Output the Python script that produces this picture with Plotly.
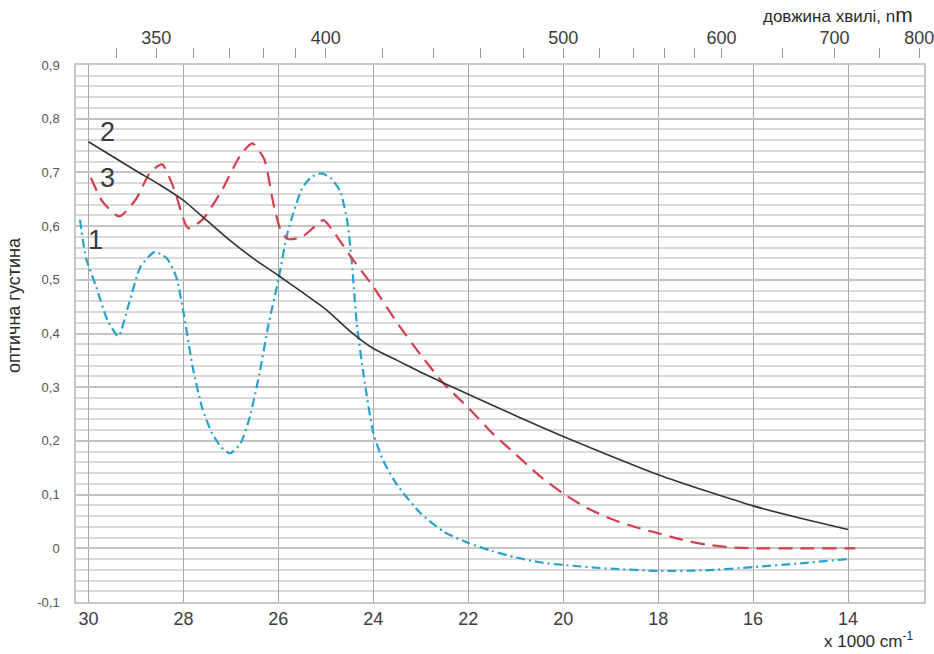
import plotly.graph_objects as go

# ---- data (x in 1000 cm^-1, y = optical density) ----
w1 = [30.18, 30.05, 29.85, 29.6, 29.37, 29.15, 28.9, 28.6, 28.35, 28.15, 28.0, 27.8, 27.6, 27.4, 27.2,
      27.02, 26.8, 26.6, 26.4, 26.2, 26.0, 25.8, 25.5, 25.3, 25.1, 24.9, 24.7, 24.55, 24.45, 24.35,
      24.2, 24.0, 23.8, 23.5, 23.0, 22.5, 22.0, 21.5, 21.0, 20.5, 20.0, 19.0, 18.0, 17.0, 16.0, 15.0, 14.0]
v1 = [0.612, 0.540, 0.490, 0.425, 0.395, 0.455, 0.525, 0.552, 0.540, 0.505, 0.440, 0.335, 0.260, 0.215, 0.188,
      0.177, 0.195, 0.245, 0.325, 0.420, 0.500, 0.590, 0.670, 0.692, 0.698, 0.690, 0.665, 0.610, 0.530, 0.420,
      0.320, 0.215, 0.165, 0.118, 0.065, 0.030, 0.010, -0.005, -0.017, -0.026, -0.031, -0.038, -0.042, -0.041,
      -0.035, -0.028, -0.020]

w2 = [30.0, 29.5, 29.0, 28.5, 28.0, 27.5, 27.0, 26.5, 26.0, 25.5, 25.0, 24.5, 24.0, 23.5, 23.0, 22.5,
      22.0, 21.0, 20.0, 19.0, 18.0, 17.0, 16.0, 15.0, 14.0]
v2 = [0.757, 0.730, 0.703, 0.677, 0.648, 0.610, 0.572, 0.538, 0.508, 0.477, 0.445, 0.405, 0.372, 0.350,
      0.328, 0.307, 0.287, 0.247, 0.208, 0.172, 0.137, 0.107, 0.079, 0.056, 0.035]

w3 = [29.95, 29.7, 29.35, 29.0, 28.7, 28.45, 28.2, 27.9, 27.6, 27.2, 26.8, 26.55, 26.3, 26.1, 25.95, 25.8,
      25.5, 25.25, 25.05, 24.8, 24.5, 24.0, 23.5, 23.0, 22.5, 22.0, 21.5, 21.0, 20.5, 20.0, 19.5, 19.0,
      18.5, 18.0, 17.5, 17.0, 16.5, 16.0, 15.0, 14.0, 13.85]
v3 = [0.690, 0.645, 0.618, 0.650, 0.700, 0.715, 0.670, 0.596, 0.612, 0.665, 0.732, 0.754, 0.725, 0.640,
      0.592, 0.576, 0.580, 0.598, 0.611, 0.585, 0.546, 0.487, 0.420, 0.360, 0.305, 0.262, 0.215, 0.175,
      0.135, 0.102, 0.075, 0.055, 0.040, 0.028, 0.016, 0.007, 0.002, 0.0, 0.0, 0.0, 0.0]

x_ticks = [30, 28, 26, 24, 22, 20, 18, 16, 14]
y_tick_vals = [-0.1, 0, 0.1, 0.2, 0.3, 0.4, 0.5, 0.6, 0.7, 0.8, 0.9]
y_tick_labels = ["-0,1", "0", "0,1", "0,2", "0,3", "0,4", "0,5", "0,6", "0,7", "0,8", "0,9"]
wl_labeled = [350, 400, 500, 600, 700, 800]
wl_minor = [330, 340, 360, 370, 380, 390, 420, 440, 460, 480, 520, 540, 560, 580, 650, 750]

curve_labels = ["1", "2", "3"]
label_pos = [(29.86, 0.574), (29.61, 0.776), (29.61, 0.689)]

X_RANGE = [30.263, 12.40]

fig = go.Figure()
fig.add_trace(go.Scatter(x=w1, y=v1, mode="lines", line=dict(color="#2ba2c9", width=2.2, dash="9px,4px,2px,4px",
                                                          shape="spline", smoothing=0.6), showlegend=False))
fig.add_trace(go.Scatter(x=w3, y=v3, mode="lines", line=dict(color="#d2404c", width=2.2, dash="14px,8px",
                                                          shape="spline", smoothing=0.6), showlegend=False))
fig.add_trace(go.Scatter(x=w2, y=v2, mode="lines", line=dict(color="#333333", width=1.6,
                                                          shape="spline", smoothing=0.6), showlegend=False))
# wavelength axes (top): wavenumber (1000 cm^-1) = 1e4 / wavelength (nm)
wn_major = [1e4 / l for l in wl_labeled]
wn_minor = [1e4 / l for l in wl_minor]
fig.add_trace(go.Scatter(x=wn_major, y=[None] * len(wn_major), xaxis="x2", mode="lines",
                         showlegend=False, hoverinfo="skip"))
fig.add_trace(go.Scatter(x=wn_minor, y=[None] * len(wn_minor), xaxis="x3", mode="lines",
                         showlegend=False, hoverinfo="skip"))

for txt, (xx, yy) in zip(curve_labels, label_pos):
    fig.add_annotation(x=xx, y=yy, text=txt, showarrow=False, xanchor="center", yanchor="middle",
                       font=dict(family="Liberation Sans, Arial, sans-serif", size=27, color="#3a3a3a"))

L, T, B = 76, 58, 52
W, H = 934, 654
R = W - L - (X_RANGE[0] - X_RANGE[1]) * 47.5
pw, ph = W - L - R, H - T - B

top_font = dict(family="Liberation Sans Narrow, Arial Narrow, sans-serif", size=18, color="#3c3c3c")
fig.update_layout(
    width=W, height=H,
    margin=dict(l=L, r=R, t=T, b=B, autoexpand=False),
    paper_bgcolor="white", plot_bgcolor="white",
    xaxis=dict(range=X_RANGE, tickvals=x_ticks, ticktext=[str(t) for t in x_ticks],
               showgrid=True, gridcolor="#a8a8a8", gridwidth=1, zeroline=False,
               showline=True, linecolor="#c8c8c8", linewidth=1.5, mirror=True,
               ticks="", tickfont=dict(family="Liberation Sans Narrow, Arial Narrow, sans-serif", size=18,
                                       color="#3c3c3c")),
    xaxis2=dict(range=X_RANGE, overlaying="x", side="top", anchor="free", position=1,
                tickvals=wn_major, ticktext=[str(l) for l in wl_labeled], ticklabeloverflow="allow",
                ticks="outside", ticklen=10, tickcolor="#9a9a9a", tickwidth=1, ticklabelstandoff=-3,
                showgrid=False, showline=False, zeroline=False, tickfont=top_font),
    xaxis3=dict(range=X_RANGE, overlaying="x", side="top", anchor="free", position=1,
                tickvals=wn_minor, showticklabels=False,
                ticks="outside", ticklen=10, tickcolor="#9a9a9a", tickwidth=1,
                showgrid=False, showline=False, zeroline=False),
    yaxis=dict(range=[-0.1, 0.9], domain=[0, (H - B - 65) / ph],
               tickvals=y_tick_vals, ticktext=y_tick_labels,
               showgrid=True, gridcolor="#c4c4c4", gridwidth=1.5, zeroline=False,
               showline=True, linecolor="#c8c8c8", linewidth=1.5, mirror=True,
               ticks="", ticklabelstandoff=12,
               minor=dict(dtick=0.02, showgrid=True, gridcolor="#dadada", gridwidth=1.5),
               tickfont=dict(family="Liberation Sans, Arial, sans-serif", size=13, color="#555555")),
)

fig.add_annotation(xref="paper", yref="paper", x=(915 - L) / pw, y=(H - B - 14) / ph,
                   text="довжина хвилі, n<span style='font-size:21px'>m</span>", showarrow=False,
                   xanchor="right", yanchor="middle",
                   font=dict(family="Liberation Sans, Arial, sans-serif", size=17, color="#2a2a2a"))
fig.add_annotation(xref="paper", yref="paper", x=(915 - L) / pw, y=(H - B - 640) / ph,
                   text="x 1000 cm<sup>-1</sup>", showarrow=False, xanchor="right", yanchor="middle",
                   font=dict(family="Liberation Sans, Arial, sans-serif", size=17, color="#2a2a2a"))
fig.add_annotation(xref="paper", yref="paper", x=(14 - L) / pw, y=(H - B - 305) / ph,
                   text="оптична густина", showarrow=False, textangle=-90,
                   xanchor="center", yanchor="middle",
                   font=dict(family="Liberation Sans Narrow, Arial Narrow, sans-serif", size=18, color="#2a2a2a"))

fig.write_html("out.html", config={"displayModeBar": False},
               post_script="document.body.style.margin='0';document.body.style.overflow='hidden';")
